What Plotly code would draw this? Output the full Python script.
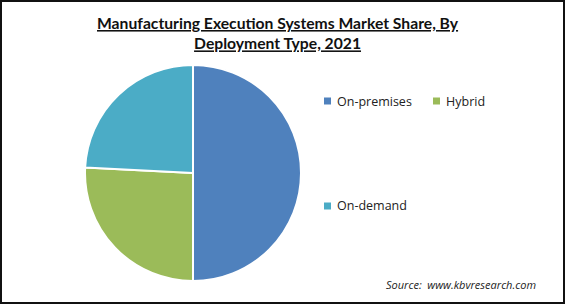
import plotly.graph_objects as go

labels = ["On-premises", "Hybrid", "On-demand"]
values = [50.0, 25.8, 24.2]
colors = ["#4F81BD", "#9BBB59", "#4BACC6"]

W, H = 565, 304

fig = go.Figure(go.Pie(
    labels=labels, values=values, sort=False, direction="clockwise", rotation=0,
    marker=dict(colors=colors, line=dict(color="white", width=2)),
    textinfo="none", hoverinfo="label+percent", showlegend=False,
    domain=dict(x=[85 / W, 301 / W], y=[(H - 282) / H, (H - 64) / H]),
))

# legend built from the label list
leg_pos = [(327, 101), (436, 101), (327, 206)]
shapes = []
annotations = []
for lab, col, (lx, ly) in zip(labels, colors, leg_pos):
    shapes.append(dict(type="rect", xref="paper", yref="paper",
                       x0=(lx - 3) / W, x1=(lx + 4) / W,
                       y0=(H - ly - 3.5) / H, y1=(H - ly + 3.5) / H,
                       fillcolor=col, line=dict(width=0)))
    annotations.append(dict(x=(lx + 8) / W, y=(H - ly) / H, xref="paper", yref="paper",
                            text=lab, showarrow=False, xanchor="left", yanchor="middle",
                            font=dict(family="Open Sans", size=12.5, color="#222")))

annotations.append(dict(x=278 / W, y=(H - 33) / H, xref="paper", yref="paper",
                        text="<b><u>Manufacturing Execution Systems Market Share, By<br>Deployment Type, 2021</u></b>",
                        showarrow=False, xanchor="center", yanchor="middle",
                        font=dict(family="Lato", size=15.7, color="#111")))
annotations.append(dict(x=384 / W, y=(H - 284) / H, xref="paper", yref="paper",
                        text="<i>Source:  www.kbvresearch.com</i>",
                        showarrow=False, xanchor="left", yanchor="middle",
                        font=dict(family="Open Sans", size=11, color="#222")))

shapes.append(dict(type="rect", xref="paper", yref="paper",
                   x0=1 / W, x1=1 - 1 / W, y0=1 / H, y1=1 - 1 / H,
                   line=dict(color="#111", width=2), fillcolor="rgba(0,0,0,0)"))

fig.update_layout(width=W, height=H, margin=dict(l=0, r=0, t=0, b=0),
                  paper_bgcolor="white", plot_bgcolor="white",
                  shapes=shapes, annotations=annotations)

fig.write_html("out.html")
